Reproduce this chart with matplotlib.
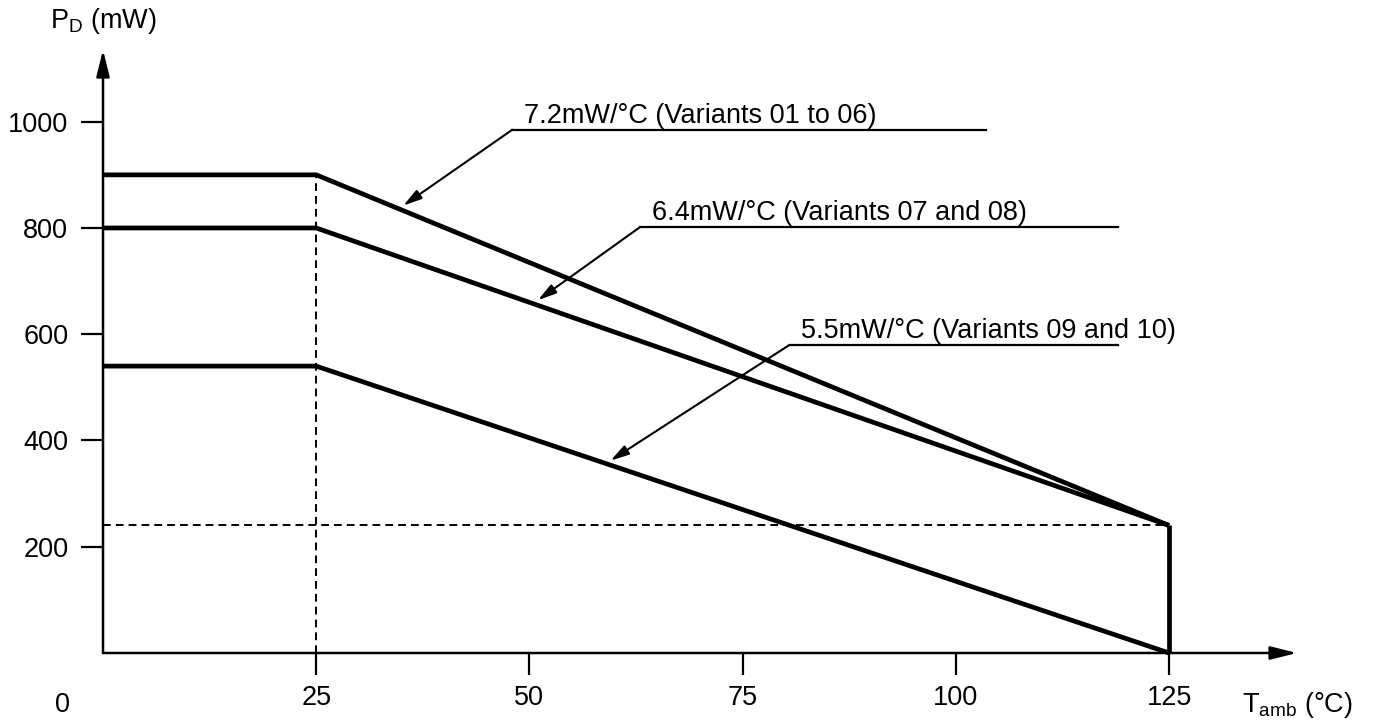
import matplotlib
matplotlib.use("Agg")
import matplotlib.pyplot as plt

# fonte parecida com Helvetica
plt.rcParams['font.family'] = ['Liberation Sans', 'DejaVu Sans']
plt.rcParams['mathtext.fontset'] = 'custom'
plt.rcParams['mathtext.rm'] = 'Liberation Sans'
plt.rcParams['mathtext.it'] = 'Liberation Sans:italic'
plt.rcParams['mathtext.default'] = 'regular'

# dados da curva de derating
t_knee = 25          # °C, fim do patamar
t_max = 125          # °C, temperatura maxima
p_25 = [900, 800, 540]   # mW em 25 °C
p_125 = [240, 240, 0]    # mW em 125 °C
p_ref = 240              # linha tracejada horizontal

curve_labels = ["7.2mW/°C (Variants 01 to 06)",
                "6.4mW/°C (Variants 07 and 08)",
                "5.5mW/°C (Variants 09 and 10)"]
label_start = [(48.0, 985), (63.0, 802), (80.5, 580)]   # inicio do sublinhado
label_end = [103.5, 119.0, 119.0]                       # fim do sublinhado
arrow_tip = [(35.2, 842), (51.0, 664), (59.5, 362)]     # ponta da seta

xticks = [25, 50, 75, 100, 125]
yticks = [200, 400, 600, 800, 1000]

fig = plt.figure(figsize=(13.79, 7.26), dpi=100)
ax = fig.add_axes([103 / 1379, 73 / 726, (1297 - 103) / 1379, (653 - 50) / 726])
ax.set_xlim(0, 140)
ax.set_ylim(0, 1135)

lw_curve = 3.4
for a, b in zip(p_25, p_125):
    ax.plot([0, t_knee, t_max], [a, a, b], color='black', lw=lw_curve,
            solid_joinstyle='miter', solid_capstyle='butt', clip_on=False)
ax.plot([t_max, t_max], [p_ref, 0], color='black', lw=lw_curve,
        solid_capstyle='butt', clip_on=False)

# linhas tracejadas
dash = (0, (4, 2.6))
ax.plot([t_knee, t_knee], [0, max(p_25)], color='black', lw=1.4, ls=dash)
ax.plot([0, t_max], [p_ref, p_ref], color='black', lw=1.4, ls=dash)

# eixos com setas
for spine in ax.spines.values():
    spine.set_visible(False)
axis_arrow = dict(arrowstyle='-|>,head_length=0.8,head_width=0.2', lw=1.8,
                  color='black', mutation_scale=20, shrinkA=0, shrinkB=0)
ax.annotate('', xy=(140, 0), xytext=(0, 0), arrowprops=axis_arrow,
            annotation_clip=False)
ax.annotate('', xy=(0, 1135), xytext=(0, 0), arrowprops=axis_arrow,
            annotation_clip=False)

ax.set_xticks(xticks)
ax.set_yticks(yticks)
ax.tick_params(direction='out', length=16, width=1.6, labelsize=19.5, color='black')
ax.tick_params(axis='x', pad=7)
ax.tick_params(axis='y', pad=9)

# rotulos dos eixos
ax.text(-4.8, -111, '0', fontsize=19.5, ha='center', va='baseline', clip_on=False)
ax.text(133.5, -111, r'T$_{amb}$ (°C)', fontsize=19.5, ha='left', va='baseline', clip_on=False)
ax.text(-6.2, 1177, r'P$_{D}$ (mW)', fontsize=19.5, ha='left', va='baseline', clip_on=False)

# legendas com seta
note_arrow = dict(arrowstyle='-|>,head_length=0.8,head_width=0.22', lw=1.5,
                  color='black', mutation_scale=14, shrinkA=0, shrinkB=0)
for txt, (x0, y0), x1, tip in zip(curve_labels, label_start, label_end, arrow_tip):
    ax.plot([x0, x1], [y0, y0], color='black', lw=1.6, clip_on=False)
    ax.annotate('', xy=tip, xytext=(x0, y0), arrowprops=note_arrow)
    ax.text(x0 + 1.4, y0 + 13, txt, fontsize=19.5, ha='left', va='baseline')

fig.savefig('out.png', dpi=100, facecolor='white')
